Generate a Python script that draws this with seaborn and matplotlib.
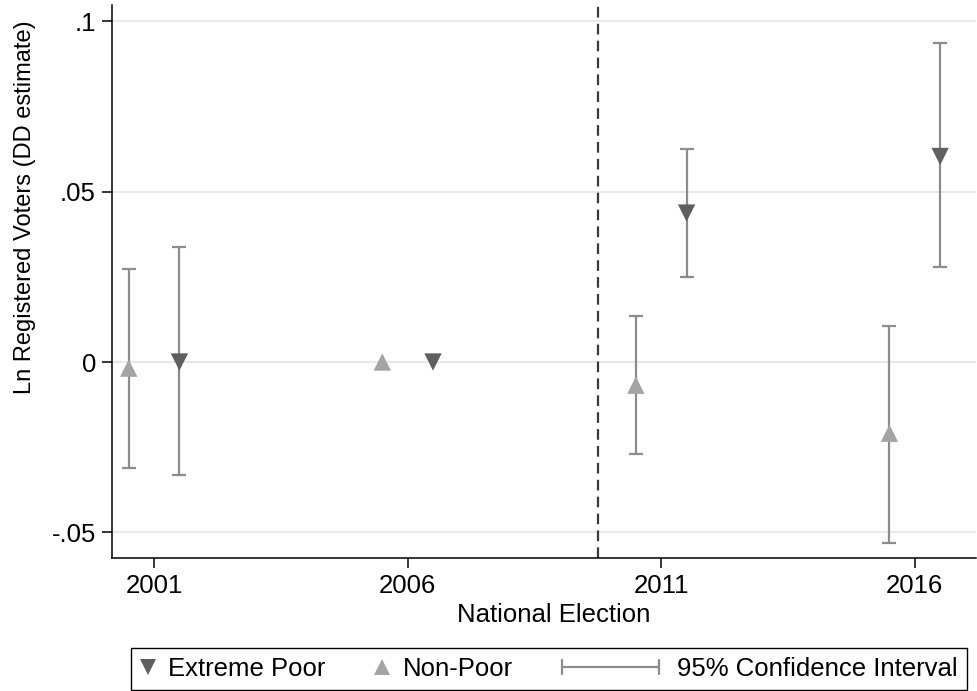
import matplotlib
matplotlib.use("Agg")
import matplotlib.pyplot as plt
import numpy as np
import pandas as pd
import seaborn as sns
from matplotlib.legend_handler import HandlerBase
from matplotlib.lines import Line2D

# Data (DD estimates and 95% CI bounds)
years = [2001, 2006, 2011, 2016]
ep_est = [0.0000, 0.0000, 0.0437, 0.0603]
ep_lo = [-0.0332, np.nan, 0.0250, 0.0278]
ep_hi = [0.0338, np.nan, 0.0624, 0.0936]
np_est = [-0.0018, 0.0000, -0.0068, -0.0209]
np_lo = [-0.0311, np.nan, -0.0270, -0.0531]
np_hi = [0.0272, np.nan, 0.0135, 0.0107]
treat_year = 2009.75

ytick_vals = [-0.05, 0, 0.05, 0.1]
ytick_labels = ["-.05", "0", ".05", ".1"]

ep_color = "#5f5f5f"
np_color = "#a4a4a4"
ci_color = "#8c8c8c"
fs = 18.5

# Long table, groups shifted half a year either side of the election
rows = []
for grp, est, lo, hi, shift in [("Extreme Poor", ep_est, ep_lo, ep_hi, 0.5),
                                ("Non-Poor", np_est, np_lo, np_hi, -0.5)]:
    for yr, e, l, h in zip(years, est, lo, hi):
        rows.append({"group": grp, "x": yr + shift, "est": e, "lo": l, "hi": h})
df = pd.DataFrame(rows)
df_ci = df.dropna()

sns.set_theme(style="ticks")
plt.rcParams["font.family"] = ["Liberation Sans", "DejaVu Sans"]

fig = plt.figure(figsize=(9.77, 6.91), dpi=100)
ax = fig.add_axes([0.1146, 0.192, 0.884, 0.801])

# Confidence intervals
ax.errorbar(df_ci["x"], df_ci["est"],
            yerr=[df_ci["est"] - df_ci["lo"], df_ci["hi"] - df_ci["est"]],
            fmt="none", ecolor=ci_color, elinewidth=1.6, capsize=5, capthick=1.6, zorder=2)

# Point estimates
sns.scatterplot(data=df, x="x", y="est", hue="group", style="group",
                markers={"Extreme Poor": "v", "Non-Poor": "^"},
                palette={"Extreme Poor": ep_color, "Non-Poor": np_color},
                s=156, linewidth=0, legend=False, ax=ax, zorder=3)

ax.axvline(treat_year, color="#3a3a3a", lw=1.6, ls=(0, (4.8, 2.8)), zorder=1)

ax.set_xlim(2000.17, 2017.2)
ax.set_ylim(-0.0576, 0.1048)
ax.set_xticks(years)
ax.set_xticklabels([str(y) for y in years])
ax.set_yticks(ytick_vals)
ax.set_yticklabels(ytick_labels)

ax.yaxis.grid(True, color="#e8e8e8", lw=1.5)
ax.xaxis.grid(False)
ax.set_axisbelow(True)
for side in ["top", "right"]:
    ax.spines[side].set_visible(False)
for side in ["left", "bottom"]:
    ax.spines[side].set_color("black")
    ax.spines[side].set_linewidth(1.1)
ax.tick_params(direction="out", length=7.5, width=1.1, color="black",
               labelsize=fs, labelcolor="black", pad=4)

ax.set_xlabel("National Election", fontsize=fs, color="black", va="top")
ax.xaxis.set_label_coords(0.511, -0.080)
ax.set_ylabel("Ln Registered Voters (DD estimate)", fontsize=17, color="black")
ax.yaxis.set_label_coords(-0.088, 0.635)


class HandlerCI(HandlerBase):
    # wider handle: horizontal bar with end caps
    def legend_artist(self, legend, orig_handle, fontsize, handlebox):
        handlebox.width = 4.0 * fontsize
        w = 3.8 * fontsize
        yc = (handlebox.height - handlebox.ydescent) / 2
        cap = 0.26 * fontsize
        parts = [Line2D([0, w], [yc, yc], color=ci_color, lw=1.6),
                 Line2D([0, 0], [yc - cap, yc + cap], color=ci_color, lw=1.6),
                 Line2D([w, w], [yc - cap, yc + cap], color=ci_color, lw=1.6)]
        for p in parts:
            handlebox.add_artist(p)
        return parts[0]


ep_handle = Line2D([], [], marker="v", ls="none", color=ep_color, markersize=12, markeredgewidth=0)
np_handle = Line2D([], [], marker="^", ls="none", color=np_color, markersize=12, markeredgewidth=0)
ci_handle = Line2D([], [], color=ci_color)

leg = fig.legend([ep_handle, np_handle, ci_handle],
                 ["Extreme Poor", "Non-Poor", "95% Confidence Interval"],
                 handler_map={ci_handle: HandlerCI()},
                 loc="lower left", bbox_to_anchor=(131 / 977, 1 / 691, 836 / 977, 45 / 691),
                 mode="expand", ncol=3, fontsize=fs, frameon=True, fancybox=False,
                 edgecolor="black", framealpha=1, borderaxespad=0, borderpad=0.35,
                 handlelength=0.6, handletextpad=0.5, numpoints=1)
leg.get_frame().set_linewidth(1.0)
for t in leg.get_texts():
    t.set_color("black")

fig.savefig("out.png", dpi=100)
